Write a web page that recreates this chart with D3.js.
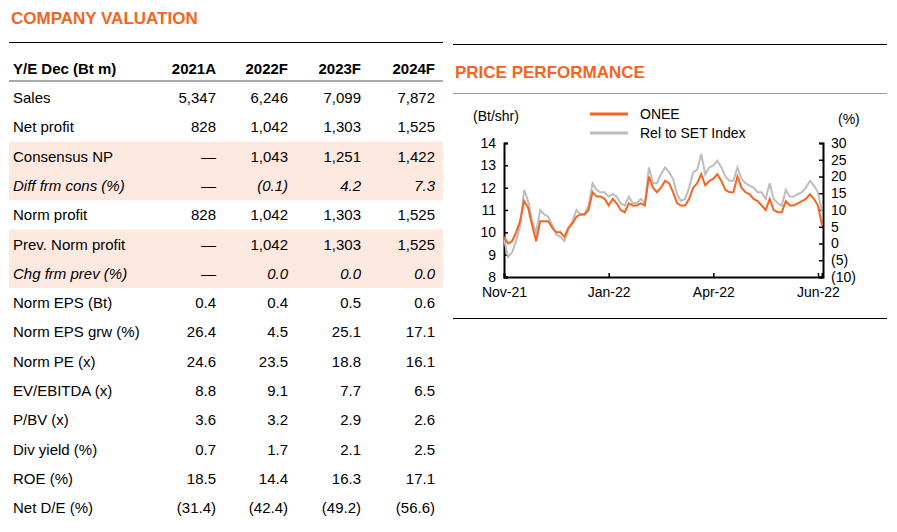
<!DOCTYPE html><html><head><meta charset="utf-8"><script src="https://cdn.jsdelivr.net/npm/d3@7"></script>
<style>body{margin:0;background:#fff;font-family:Arial,"Liberation Sans",sans-serif}</style></head><body><svg id="c" width="897" height="532"></svg>
<script>
const years=["2021A","2022F","2023F","2024F"];
const rowLabels=["Sales","Net profit","Consensus NP","Diff frm cons (%)","Norm profit","Prev. Norm profit","Chg frm prev (%)","Norm EPS (Bt)","Norm EPS grw (%)","Norm PE (x)","EV/EBITDA (x)","P/BV (x)","Div yield (%)","ROE (%)","Net D/E (%)"];
const rowValues=[["5,347","6,246","7,099","7,872"],["828","1,042","1,303","1,525"],["\u2014","1,043","1,251","1,422"],["\u2014","(0.1)","4.2","7.3"],["828","1,042","1,303","1,525"],["\u2014","1,042","1,303","1,525"],["\u2014","0.0","0.0","0.0"],["0.4","0.4","0.5","0.6"],["26.4","4.5","25.1","17.1"],["24.6","23.5","18.8","16.1"],["8.8","9.1","7.7","6.5"],["3.6","3.2","2.9","2.6"],["0.7","1.7","2.1","2.5"],["18.5","14.4","16.3","17.1"],["(31.4)","(42.4)","(49.2)","(56.6)"]];
const shadedRows=[2,3,5,6], italicRows=[3,6];
const onee=[9.8,9.5,9.6,10.0,10.5,11.4,11.1,10.3,9.6,10.5,10.5,10.5,10.2,10.0,10.0,9.8,10.2,10.4,10.7,10.8,10.8,11.0,11.8,11.6,11.6,11.5,11.2,11.5,11.3,11.0,10.9,11.3,11.2,11.2,11.3,11.2,12.5,12.0,11.8,12.0,12.3,12.2,11.8,11.3,11.2,11.2,11.5,12.0,12.2,12.6,12.1,12.3,12.4,12.6,12.3,11.9,11.8,11.8,12.5,12.0,11.8,11.7,11.5,11.4,11.2,11.0,11.5,11.0,10.9,10.9,11.4,11.2,11.2,11.3,11.4,11.5,11.7,11.5,11.2,10.3];
const relSet=[1.3,-4.0,-2.7,0.7,5.3,16.0,12.7,6.7,3.3,10.0,8.7,8.0,5.3,2.7,2.0,0.7,4.0,6.7,10.0,8.7,8.7,11.3,18.0,16.0,15.3,15.3,14.0,14.7,14.0,12.0,11.3,14.0,12.0,12.0,13.3,12.0,22.7,18.0,18.0,20.7,22.7,21.3,19.3,14.7,12.7,13.3,16.7,21.3,22.0,26.7,20.7,22.7,23.3,24.7,22.7,20.0,18.7,18.7,22.7,19.3,18.0,17.3,16.7,15.3,15.3,13.3,18.0,13.3,12.0,11.3,16.0,14.0,14.0,14.7,15.3,16.7,18.7,17.3,15.3,9.3];
const xTickIdx=[0,26,52,78], xTickLabels=["Nov-21","Jan-22","Apr-22","Jun-22"];
const leftTicks=[8,9,10,11,12,13,14], rightTicks=[-10,-5,0,5,10,15,20,25,30];

const svg=d3.select("#c"), OR="#f26522", FS=15;
svg.append("text").attr("x",11).attr("y",24).attr("fill",OR).attr("font-weight","bold").attr("font-size",17).text("COMPANY VALUATION");
svg.append("line").attr("x1",9).attr("x2",443).attr("y1",42.5).attr("y2",42.5).attr("stroke","#000");
const colX=[216,288,361,435], rowY=i=>98+i*29.3;
shadedRows.forEach(i=>svg.append("rect").attr("x",9).attr("width",434).attr("y",rowY(i)-15).attr("height",29.3).attr("fill","#fde9e0"));
svg.append("text").attr("x",13).attr("y",74).attr("font-weight","bold").attr("font-size",FS).text("Y/E Dec (Bt m)");
years.forEach((y,j)=>svg.append("text").attr("x",colX[j]).attr("y",74).attr("text-anchor","end").attr("font-weight","bold").attr("font-size",FS).text(y));
svg.append("line").attr("x1",9).attr("x2",443).attr("y1",81).attr("y2",81).attr("stroke","#aaa").attr("stroke-width",2);
rowLabels.forEach((l,i)=>{
 const it=italicRows.includes(i)?"italic":"normal";
 svg.append("text").attr("x",13).attr("y",rowY(i)+5).attr("font-size",FS).attr("font-style",it).text(l);
 rowValues[i].forEach((v,j)=>svg.append("text").attr("x",colX[j]).attr("y",rowY(i)+5).attr("text-anchor","end").attr("font-size",FS).attr("font-style",v==="\u2014"?"normal":it).text(v));
});
svg.append("line").attr("x1",453).attr("x2",887).attr("y1",44.5).attr("y2",44.5).attr("stroke","#000");
svg.append("text").attr("x",455).attr("y",78).attr("fill",OR).attr("font-weight","bold").attr("font-size",17).text("PRICE PERFORMANCE");
svg.append("line").attr("x1",453).attr("x2",887).attr("y1",93.5).attr("y2",93.5).attr("stroke","#999");
svg.append("line").attr("x1",453).attr("x2",887).attr("y1",318.5).attr("y2",318.5).attr("stroke","#000");
const x=d3.scaleLinear().domain([0,onee.length-1]).range([504,822]);
const yL=d3.scaleLinear().domain([8,14]).range([277,143]);
const yR=d3.scaleLinear().domain([-10,30]).range([277,143]);
const gl=svg.append("g").attr("transform","translate(504,0)").call(d3.axisLeft(yL).tickValues(leftTicks).tickSize(-4).tickPadding(8).tickFormat(d3.format("d")));
const gr=svg.append("g").attr("transform","translate(823,0)").call(d3.axisRight(yR).tickValues(rightTicks).tickSize(-4).tickPadding(8).tickFormat(d=>d<0?`(${-d})`:d));
const gx=svg.append("g").attr("transform","translate(0,277)").call(d3.axisBottom(x).tickValues(xTickIdx).tickFormat((d,i)=>xTickLabels[i]).tickSize(-4).tickPadding(10));
[gl,gr,gx].forEach(g=>{g.selectAll("text").attr("font-size",14).attr("fill","#000").attr("font-family","Arial,'Liberation Sans',sans-serif");g.select(".domain").attr("stroke-width",2);g.selectAll(".tick line").attr("stroke-width",1.5);});
svg.append("path").datum(relSet).attr("d",d3.line().x((d,i)=>x(i)).y(d=>yR(d))).attr("fill","none").attr("stroke","#bdbdbd").attr("stroke-width",2);
svg.append("path").datum(onee).attr("d",d3.line().x((d,i)=>x(i)).y(d=>yL(d))).attr("fill","none").attr("stroke",OR).attr("stroke-width",2);
svg.append("text").attr("x",473).attr("y",121).attr("font-size",14).text("(Bt/shr)");
svg.append("text").attr("x",838).attr("y",124).attr("font-size",14).text("(%)");
svg.append("line").attr("x1",590).attr("x2",628).attr("y1",114).attr("y2",114).attr("stroke",OR).attr("stroke-width",3);
svg.append("text").attr("x",640).attr("y",119).attr("font-size",14).text("ONEE");
svg.append("line").attr("x1",590).attr("x2",628).attr("y1",133).attr("y2",133).attr("stroke","#bdbdbd").attr("stroke-width",3);
svg.append("text").attr("x",640).attr("y",138).attr("font-size",14).text("Rel to SET Index");
</script></body></html>
